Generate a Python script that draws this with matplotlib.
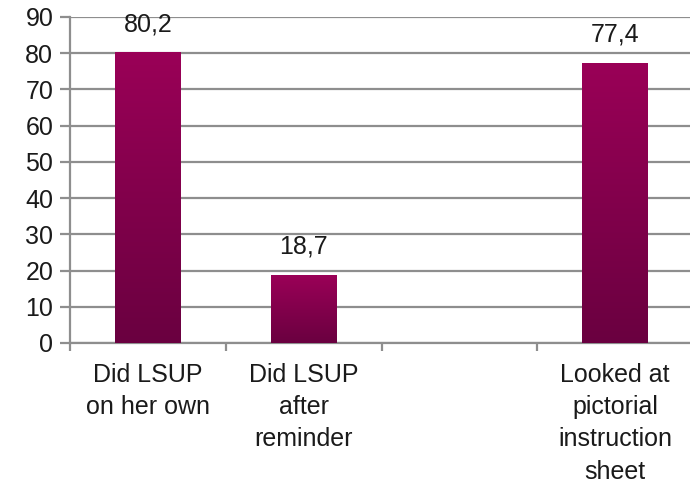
import matplotlib
matplotlib.use("Agg")
import matplotlib.pyplot as plt
import numpy as np
from matplotlib.colors import LinearSegmentedColormap

categories = ["Did LSUP\non her own", "Did LSUP\nafter\nreminder", "", "Looked at\npictorial\ninstruction\nsheet"]
values = [80.2, 18.7, None, 77.4]
value_labels = ["80,2", "18,7", "", "77,4"]

plt.rcParams['font.family'] = ['Liberation Sans', 'DejaVu Sans']

fig = plt.figure(figsize=(6.9, 4.88), dpi=100)
ax = fig.add_axes([70 / 690, 1 - 343 / 488, 623 / 690, 326 / 488])

grid_col = "#8e8e8e"
cmap = LinearSegmentedColormap.from_list("bar", ["#6a0040", "#9a0057"])
grad = np.linspace(0, 1, 256).reshape(-1, 1)
width = 0.42
fs = 18

x = np.arange(len(categories))
for xi, v, lab in zip(x, values, value_labels):
    if v is None:
        continue
    bars = ax.bar(xi, v, width=width, color="none", zorder=3)
    im = ax.imshow(grad, cmap=cmap, origin="lower", aspect="auto",
                   extent=[xi - width / 2, xi + width / 2, 0, v], zorder=3)
    im.set_clip_path(bars[0])
    ax.text(xi, v + 4.5, lab, ha="center", va="bottom", fontsize=fs, color="#1a1a1a")

ax.set_xlim(-0.5, 3.5)
ax.set_ylim(0, 90)
ax.set_yticks(np.arange(0, 91, 10))
ax.yaxis.grid(True, color=grid_col, linewidth=1.6, zorder=0)
ax.set_axisbelow(True)

ax.set_xticks(x)
ax.set_xticklabels(categories, fontsize=fs, linespacing=1.43, va="top", color="#1a1a1a")
ax.tick_params(axis="x", which="major", length=0, pad=14.5)
ax.set_xticks(np.arange(-0.5, 4, 1), minor=True)
ax.tick_params(axis="x", which="minor", length=6, width=1.6, color=grid_col)
ax.tick_params(axis="y", length=7, width=1.6, color=grid_col, labelsize=fs, labelcolor="#1a1a1a", pad=5)

for s in ["top", "right"]:
    ax.spines[s].set_visible(False)
for s in ["left", "bottom"]:
    ax.spines[s].set_color(grid_col)
    ax.spines[s].set_linewidth(1.6)

fig.savefig("out.png", dpi=100)
